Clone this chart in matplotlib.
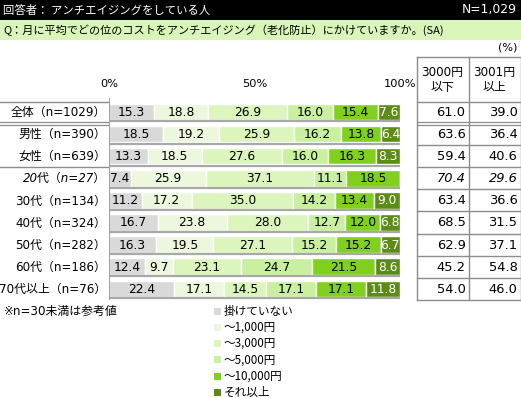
import matplotlib
matplotlib.use("Agg")
import matplotlib.pyplot as plt
import numpy as np

plt.rcParams['font.family'] = ['DejaVu Sans', 'Noto Sans CJK JP']

# ---- data ----
groups = ["全体（n=1029）", "男性（n=390）", "女性（n=639）", "20代（n=27）",
          "30代（n=134）", "40代（n=324）", "50代（n=282）", "60代（n=186）",
          "70代以上（n=76）"]
categories = ["掛けていない", "～1,000円", "～3,000円", "～5,000円", "～10,000円", "それ以上"]
shares = np.array([
    [15.3, 18.8, 26.9, 16.0, 15.4, 7.6],
    [18.5, 19.2, 25.9, 16.2, 13.8, 6.4],
    [13.3, 18.5, 27.6, 16.0, 16.3, 8.3],
    [7.4, 25.9, 37.1, 11.1, 18.5, 0.0],
    [11.2, 17.2, 35.0, 14.2, 13.4, 9.0],
    [16.7, 23.8, 28.0, 12.7, 12.0, 6.8],
    [16.3, 19.5, 27.1, 15.2, 15.2, 6.7],
    [12.4, 9.7, 23.1, 24.7, 21.5, 8.6],
    [22.4, 17.1, 14.5, 17.1, 17.1, 11.8],
])
under_3000 = [61.0, 63.6, 59.4, 70.4, 63.4, 68.5, 62.9, 45.2, 54.0]
over_3000 = [39.0, 36.4, 40.6, 29.6, 36.6, 31.5, 37.1, 54.8, 46.0]
small_sample = [False, False, False, True, False, False, False, False, False]

colors = ["#d9d9d9", "#ecf7de", "#dbf5bc", "#c8f09e", "#80d01e", "#5c8c16"]
text_colors = ["black"] * 5 + ["white"]

W, H = 521, 398
fig = plt.figure(figsize=(W / 100, H / 100), dpi=100)
bg = fig.add_axes([0, 0, 1, 1])
bg.set_xlim(0, W)
bg.set_ylim(H, 0)
bg.axis("off")

jp = ['DejaVu Sans', 'Noto Sans CJK JP']
fs = 8.6
fnum = 8.8

# header bars
bg.add_patch(plt.Rectangle((0, 0), W, 19.5, color="black", lw=0))
bg.add_patch(plt.Rectangle((0, 20), W, 20, color="#d9f5b9", lw=0))
bg.text(3, 10, "回答者： アンチエイジングをしている人", color="white", va="center",
        fontsize=8.2, family=['Noto Sans CJK JP'])
bg.text(517, 10, "N=1,029", color="white", va="center", ha="right", fontsize=fs + 0.3)
bg.text(3, 30, "Q：月に平均でどの位のコストをアンチエイジング（老化防止）にかけていますか。(SA)",
        va="center", fontsize=8.0, family=['Noto Sans CJK JP'])
bg.text(517, 47, "(%)", va="center", ha="right", fontsize=fs - 0.6)

# row geometry
y0, pitch, bh = 112, 22.1, 16.5
ys = y0 + pitch * np.arange(len(groups))
x_left, x_right = 109, 400

# bars
ax = fig.add_axes([x_left / W, 0, (x_right - x_left) / W, 1])
ax.set_xlim(0, 100)
ax.set_ylim(H, 0)
ax.axis("off")
left = np.zeros(len(groups))
for j, cat in enumerate(categories):
    vals = shares[:, j]
    ax.barh(ys, vals, left=left, height=bh, color=colors[j], edgecolor="white",
            linewidth=1.0, label=cat)
    for i, v in enumerate(vals):
        if v > 0:
            ax.text(left[i] + v / 2, ys[i] + 0.5, f"{v:.1f}", ha="center", va="center",
                    fontsize=fnum, color=text_colors[j])
    left += vals
for y in ys:
    ax.plot([0, 100], [y + bh / 2 + 1.2] * 2, color="#a8a8a8", lw=1.6,
            solid_capstyle="butt")
ax.plot([0, 0], [98, ys[-1] + bh / 2 + 2], color="#a0a0a0", lw=0.8)
for xt, lab in [(0, "0%"), (50, "50%"), (100, "100%")]:
    ax.text(xt, 84, lab, ha="center", va="center", fontsize=fs - 0.4)

# row labels
for i, g in enumerate(groups):
    bg.text(106, ys[i] + 0.5, g, ha="right", va="center", fontsize=fs, family=jp,
            style="italic" if small_sample[i] else "normal")

# table
tc = "#8c8c8c"
tx0, tx1, tx2 = 416.5, 468.5, 520.5
bottom = ys[-1] + pitch / 2
for x in (tx0, tx1, tx2):
    bg.plot([x, x], [57, bottom], color=tc, lw=1)
bg.plot([tx0, tx2], [57, 57], color=tc, lw=1)
top = ys[0] - pitch / 2 + 1
bg.plot([0, x_left - 1], [top, top], color=tc, lw=1)
bg.plot([tx0, tx2], [top, top], color=tc, lw=1)
for k in range(len(groups)):
    yl = ys[k] + pitch / 2
    if k == 0:
        for yy in (yl - 1.5, yl + 1.5):
            bg.plot([0, x_left - 1], [yy, yy], color=tc, lw=0.9)
            bg.plot([tx0, tx2], [yy, yy], color=tc, lw=0.9)
    else:
        bg.plot([tx0, tx2], [yl, yl], color=tc, lw=1)
        if k == 2:
            bg.plot([0, x_left - 1], [yl, yl], color=tc, lw=1)
bg.text((tx0 + tx1) / 2, 80, "3000円\n以下", ha="center", va="center", fontsize=fs,
        family=jp, linespacing=1.2)
bg.text((tx1 + tx2) / 2, 80, "3001円\n以上", ha="center", va="center", fontsize=fs,
        family=jp, linespacing=1.2)
for i in range(len(groups)):
    st = "italic" if small_sample[i] else "normal"
    bg.text(tx1 - 3, ys[i] + 0.5, f"{under_3000[i]:.1f}", ha="right", va="center",
            fontsize=9.4, style=st)
    bg.text(tx2 - 3, ys[i] + 0.5, f"{over_3000[i]:.1f}", ha="right", va="center",
            fontsize=9.4, style=st)

# footnote and legend
bg.text(4, 311, "※n=30未満は参考値", va="center", fontsize=fs, family=jp)
for j, cat in enumerate(categories):
    yy = 311 + j * 16.3
    bg.add_patch(plt.Rectangle((214, yy - 3.5), 7, 7, color=colors[j], lw=0))
    bg.text(224, yy, cat, va="center", fontsize=fs - 0.2, family=['Noto Sans CJK JP'])

fig.savefig("out.png", dpi=100)
